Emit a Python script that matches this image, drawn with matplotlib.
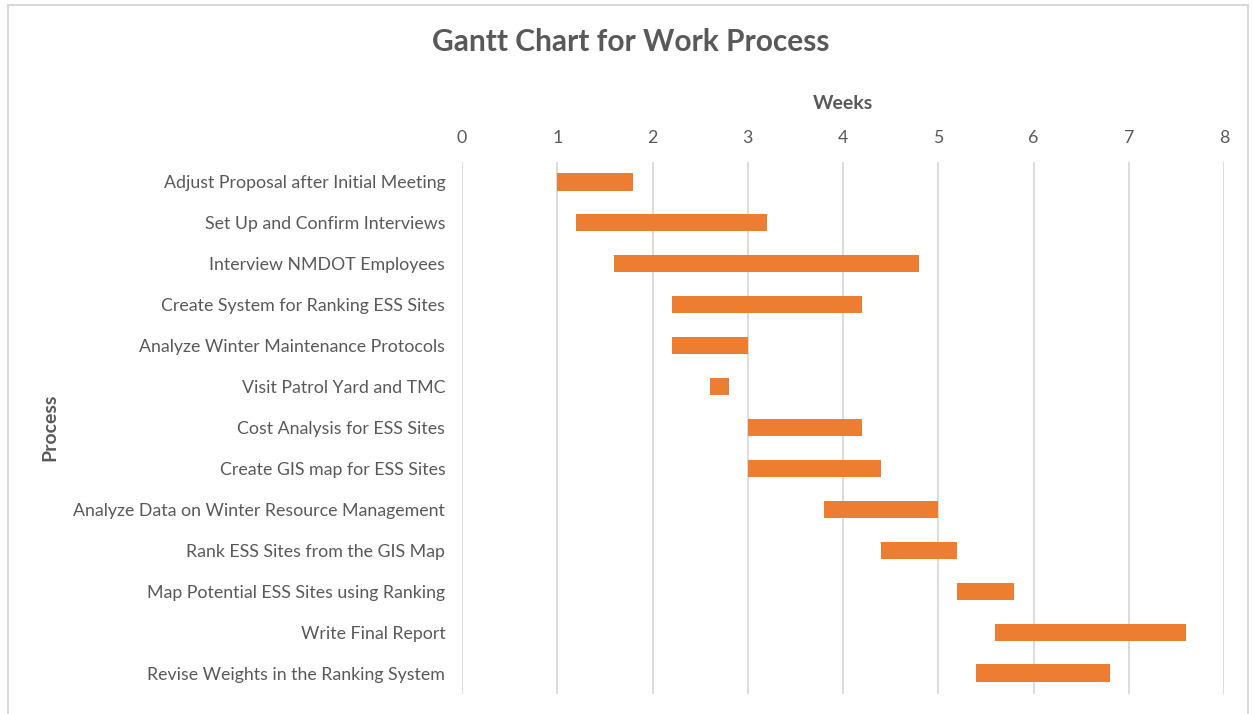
import matplotlib
matplotlib.use("Agg")
import matplotlib.pyplot as plt
from matplotlib.patches import Rectangle

tasks = [
    "Adjust Proposal after Initial Meeting",
    "Set Up and Confirm Interviews",
    "Interview NMDOT Employees",
    "Create System for Ranking ESS Sites",
    "Analyze Winter Maintenance Protocols",
    "Visit Patrol Yard and TMC",
    "Cost Analysis for ESS Sites",
    "Create GIS map for ESS Sites",
    "Analyze Data on Winter Resource Management",
    "Rank ESS Sites from the GIS Map",
    "Map Potential ESS Sites using Ranking",
    "Write Final Report",
    "Revise Weights in the Ranking System",
]
start = [1.0, 1.2, 1.6, 2.2, 2.2, 2.6, 3.0, 3.0, 3.8, 4.4, 5.2, 5.6, 5.4]
end = [1.8, 3.2, 4.8, 4.2, 3.0, 2.8, 4.2, 4.4, 5.0, 5.2, 5.8, 7.6, 6.8]
duration = [e - s for s, e in zip(start, end)]
xticks = [0, 1, 2, 3, 4, 5, 6, 7, 8]

plt.rcParams['font.family'] = ['Lato', 'DejaVu Sans']
TXT = '#595959'

fig = plt.figure(figsize=(12.52, 7.14), dpi=100)
ax = fig.add_axes([462/1252, 1-693.5/714, (1224-462)/1252, 532/714])

ypos = list(range(len(tasks)))
ax.barh(ypos, duration, left=start, height=0.42, color='#ED7D31', zorder=3)
ax.set_ylim(len(tasks) - 0.5, -0.5)
ax.set_xlim(0, 8)
ax.set_xticks(xticks)
ax.set_xticklabels([str(t) for t in xticks])
ax.xaxis.tick_top()
ax.xaxis.set_label_position('top')
ax.set_yticks(ypos)
ax.set_yticklabels(tasks)
ax.tick_params(axis='both', length=0, colors=TXT, labelsize=12.8)
ax.tick_params(axis='x', pad=11)
ax.tick_params(axis='y', pad=12)
for s in ax.spines.values():
    s.set_visible(False)
ax.grid(axis='x', color='#D9D9D9', linewidth=1.3, zorder=0)
ax.set_axisbelow(True)

ax.set_xlabel('Weeks', fontsize=14, fontweight='bold', color=TXT, labelpad=15)
fig.text(50/1252, 1-427/714, 'Process', rotation=90, fontsize=14, fontweight='bold',
         color=TXT, ha='center', va='center')
fig.text(631/1252, 1-42/714, 'Gantt Chart for Work Process', fontsize=21.5,
         fontweight='bold', color=TXT, ha='center', va='center')

frame = Rectangle((8/1252, -0.05), (1248-8)/1252, 1.05 - 5/714, transform=fig.transFigure,
                  fill=False, edgecolor='#D9D9D9', linewidth=1.5)
fig.patches.append(frame)

fig.savefig('out.png', dpi=100, facecolor='white')
